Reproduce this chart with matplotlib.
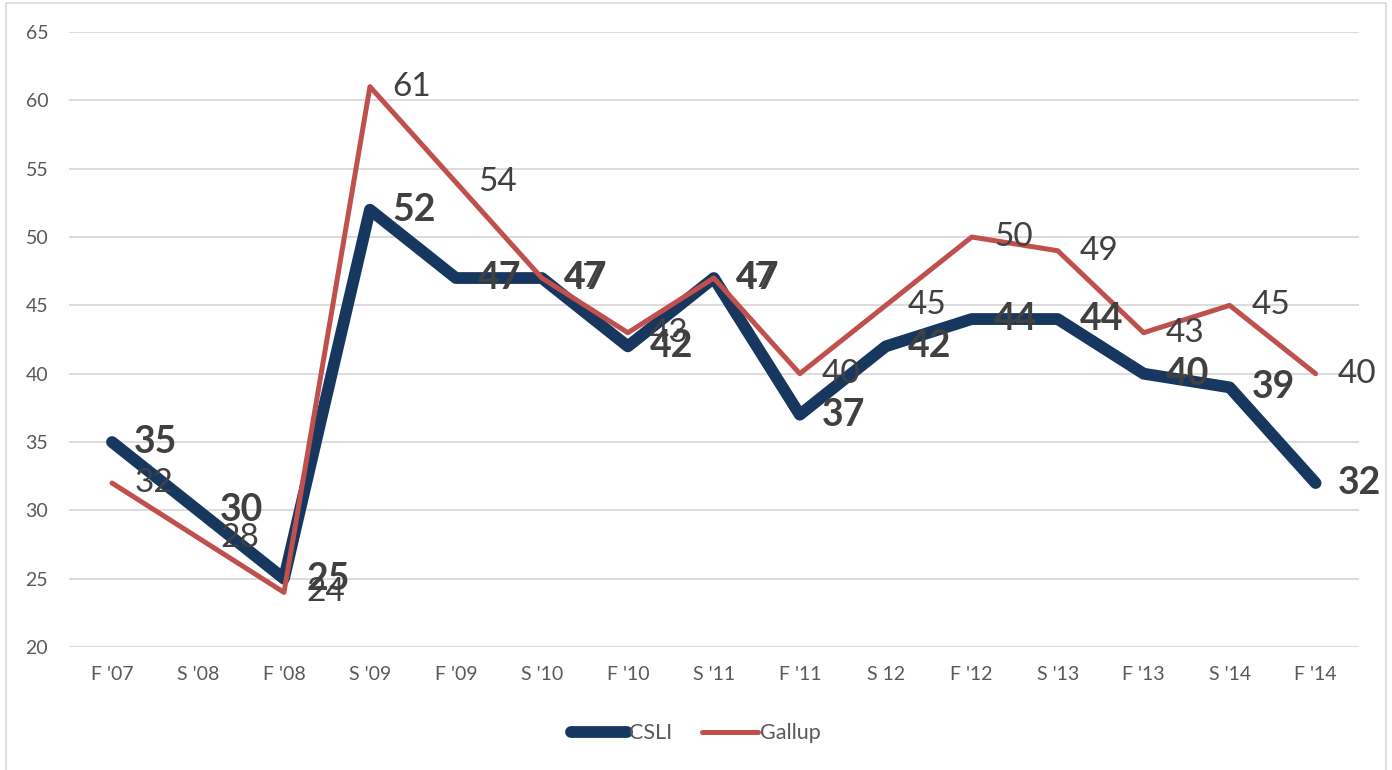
import matplotlib
matplotlib.use("Agg")
import matplotlib.pyplot as plt
from matplotlib.patches import Rectangle

plt.rcParams["font.family"] = ["Lato", "DejaVu Sans"]

terms = ["F '07", "S '08", "F '08", "S '09", "F '09", "S '10", "F '10", "S '11",
         "F '11", "S 12", "F '12", "S '13", "F '13", "S '14", "F '14"]
csli = [35, 30, 25, 52, 47, 47, 42, 47, 37, 42, 44, 44, 40, 39, 32]
gallup = [32, 28, 24, 61, 54, 47, 43, 47, 40, 45, 50, 49, 43, 45, 40]

NAVY = "#17375E"
RED = "#C0504D"
LABEL = "#404040"
TICK = "#595959"

fig = plt.figure(figsize=(13.92, 7.70), dpi=100)
ax = fig.add_axes([0.0496, 0.1597, 0.9264, 0.7987])

x = range(len(terms))
ax.plot(x, csli, color=NAVY, lw=8.5, solid_capstyle="round", solid_joinstyle="round",
        label="CSLI", zorder=3)
ax.plot(x, gallup, color=RED, lw=3.6, solid_capstyle="round", solid_joinstyle="round",
        label="Gallup", zorder=4)

# value labels sit to the right of each point
for i, v in enumerate(csli):
    ax.annotate(str(v), (i, v), xytext=(16, 0), textcoords="offset points",
                ha="left", va="center", fontsize=27, fontweight="bold", color=LABEL, zorder=5)
for i, v in enumerate(gallup):
    ax.annotate(str(v), (i, v), xytext=(16, 0), textcoords="offset points",
                ha="left", va="center", fontsize=24, color=LABEL, zorder=5)

ax.set_xlim(-0.5, len(terms) - 0.5)
ax.set_ylim(20, 65)
ax.set_yticks(range(20, 66, 5))
ax.set_xticks(list(x))
ax.set_xticklabels(terms)
ax.tick_params(axis="both", length=0, labelsize=14, labelcolor=TICK)
ax.tick_params(axis="y", pad=15)
ax.tick_params(axis="x", pad=14)
ax.grid(axis="y", color="#D9D9D9", lw=1.3)
ax.set_axisbelow(True)
for s in ax.spines.values():
    s.set_visible(False)

leg = fig.legend(loc="center", bbox_to_anchor=(0.5, 0.048), ncol=2, frameon=False,
                 fontsize=15.5, handlelength=2.6, handletextpad=0.1, columnspacing=1.4)
for t in leg.get_texts():
    t.set_color(TICK)

fig.patches.append(Rectangle((0.004, -0.01), 0.992, 1.006, transform=fig.transFigure,
                             fill=False, edgecolor="#D9D9D9", lw=1.2))

fig.savefig("out.png", dpi=100)
